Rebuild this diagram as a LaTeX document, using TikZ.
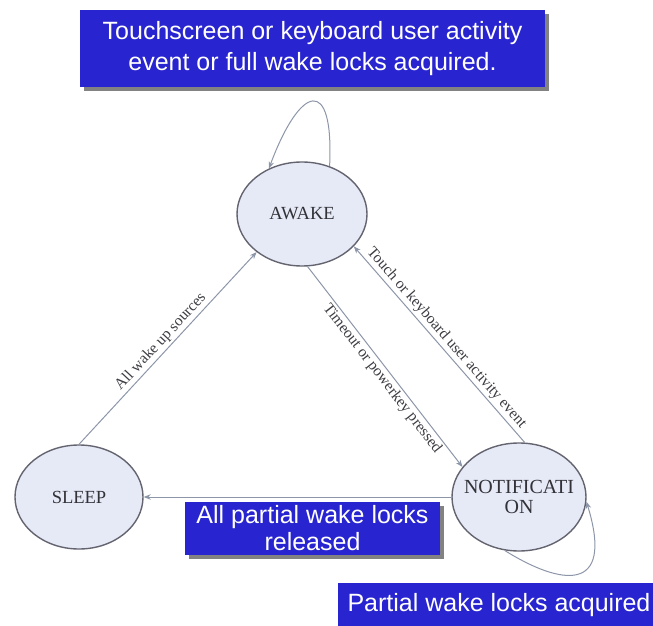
\documentclass[tikz,border=0pt]{standalone}
\usepackage{fontspec}
\setmainfont{Liberation Serif}
\newfontfamily\boxfont{Liberation Sans}
\usetikzlibrary{shapes.geometric,arrows.meta,shadows}

\definecolor{boxblue}{RGB}{40,36,208}
\definecolor{stfill}{RGB}{230,234,246}
\definecolor{stdraw}{RGB}{100,100,112}
\definecolor{edgec}{RGB}{140,150,168}
\definecolor{tipc}{RGB}{70,85,120}
\definecolor{lblc}{RGB}{60,60,66}
\definecolor{statec}{RGB}{50,50,56}
\definecolor{shadowc}{RGB}{130,130,130}

\begin{document}
\begin{tikzpicture}[x=1pt,y=1pt,
  state/.style={ellipse, draw=stdraw, fill=stfill, line width=1.4pt, inner sep=0pt,
    font=\fontsize{18.5}{19}\selectfont, text=statec},
  bluebox/.style={fill=boxblue, text=white, font=\boxfont\fontsize{25}{31}\selectfont,
    align=center, inner sep=0pt,
    drop shadow={shadow xshift=4pt, shadow yshift=-4pt, fill=shadowc, opacity=1}},
  edge/.style={draw=edgec, line width=1pt, -{Stealth[length=7pt,width=5.5pt,fill=tipc]}},
  edgerev/.style={draw=edgec, line width=1pt, {Stealth[length=7pt,width=5.5pt,fill=tipc]}-},
  elabel/.style={font=\fontsize{15.5}{17}\selectfont, text=lblc, sloped, inner sep=2pt}
]
\useasboundingbox (0,0) rectangle (653,625);

\node[state, minimum width=130pt, minimum height=104pt] (awake) at (302,411) {AWAKE};
\node[state, minimum width=128pt, minimum height=104pt] (sleep) at (79,128) {SLEEP};
\node[state, minimum width=134pt, minimum height=108pt, align=center,
  font=\fontsize{20}{20}\selectfont] (notif) at (519,128)
  {\makebox[0pt][c]{NOTIFICATI}\\\makebox[0pt][c]{ON}};

\draw[edge] (sleep.north) -- node[elabel, above, pos=0.5] {All wake up sources} (awake.220);
\draw[edge] (awake.276) -- node[elabel, below, pos=0.53] {Timeout or powerkey pressed} (notif.152);
\draw[edgerev] (awake.328) -- node[elabel, above, pos=0.5] {Touch or keyboard user activity event} (notif.84);
\draw[edge] (notif.west) -- (sleep.east);
\draw[edge] (awake.60) .. controls (334,551) and (300,540) .. (awake.126);
\draw[edge] (notif.255) .. controls (560,40) and (615,30) .. (notif.356);

\node[bluebox, minimum width=465pt, minimum height=77pt] (topbox) at (312.5,576.5)
  {Touchscreen or keyboard user activity\\event or full wake locks acquired.};
\node[bluebox, minimum width=255pt, minimum height=53pt,
  font=\boxfont\fontsize{25}{27}\selectfont] (midbox) at (312.5,96.5)
  {All partial wake locks\\released};
\node[bluebox, minimum width=322pt, minimum height=44pt] (botbox) at (499,20)
  {Partial wake locks acquired};
\end{tikzpicture}
\end{document}
